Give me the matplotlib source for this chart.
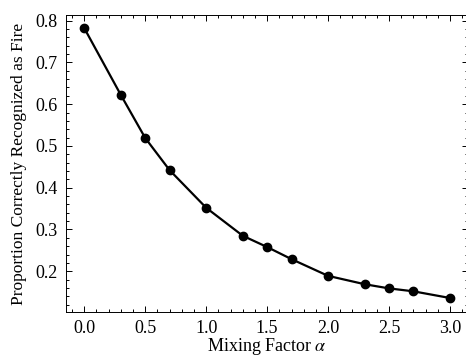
import matplotlib
matplotlib.use("Agg")
import matplotlib.pyplot as plt
from matplotlib.ticker import MultipleLocator

alpha = [0.0, 0.3, 0.5, 0.7, 1.0, 1.3, 1.5, 1.7, 2.0, 2.3, 2.5, 2.7, 3.0]
proportion = [0.782, 0.622, 0.519, 0.442, 0.352, 0.285, 0.258, 0.229, 0.189, 0.169, 0.159, 0.152, 0.136]

plt.rcParams['font.family'] = ['Liberation Serif', 'DejaVu Serif']
plt.rcParams['mathtext.fontset'] = 'stix'
plt.rcParams['font.size'] = 13

fig = plt.figure(figsize=(4.66, 3.58), dpi=100)
W, H = 466, 358
left, right, top, bottom = 66, 468.3, 15, 312
ax = fig.add_axes([left / W, (H - bottom) / H, (right - left) / W, (bottom - top) / H])

ax.plot(alpha, proportion, color='black', linewidth=1.6, marker='o', markersize=6)

ax.set_xlim(-0.15, 3.15)
ax.set_ylim(0.1025, 0.8135)
ax.xaxis.set_major_locator(MultipleLocator(0.5))
ax.xaxis.set_minor_locator(MultipleLocator(0.1))
ax.yaxis.set_major_locator(MultipleLocator(0.1))
ax.yaxis.set_minor_locator(MultipleLocator(0.02))
ax.tick_params(which='both', direction='in', top=True, right=True, width=0.7, labelsize=13)
ax.tick_params(axis='y', which='major', length=4, pad=6)
ax.tick_params(axis='x', which='major', length=4, pad=6)
ax.tick_params(which='minor', length=2)
for s in ax.spines.values():
    s.set_linewidth(0.7)

ax.set_xlabel(r'Mixing Factor $\alpha$', fontsize=13, labelpad=-1)
ax.set_ylabel('Proportion Correctly Recognized as Fire', fontsize=12.5, labelpad=6)

fig.savefig('out.png', dpi=100)
